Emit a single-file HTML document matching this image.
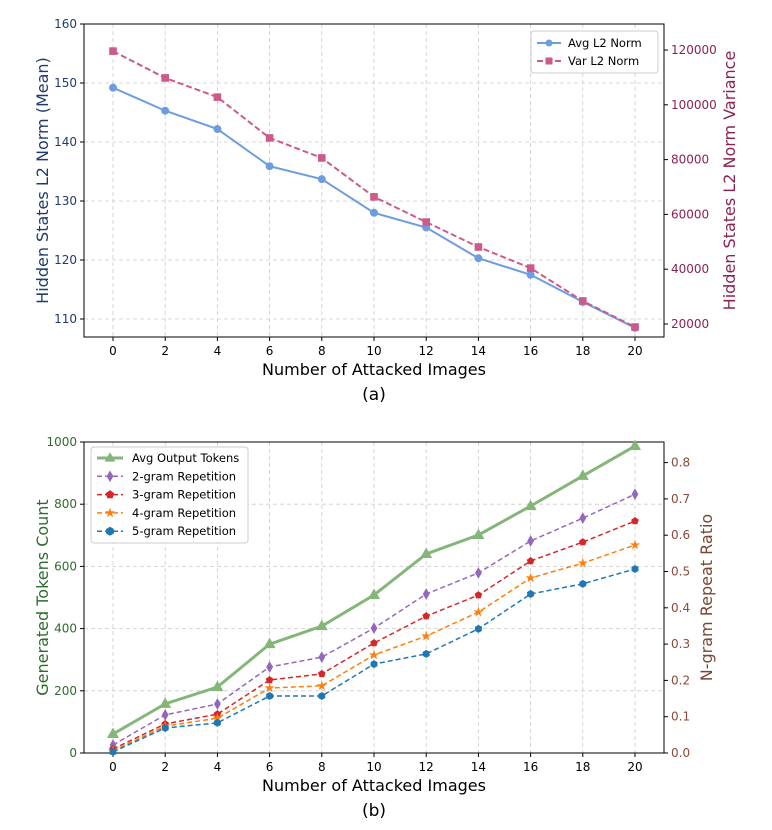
<!DOCTYPE html>
<html><head><meta charset="utf-8"><style>
body{margin:0;background:#fff;font-family:"Liberation Sans","DejaVu Sans",sans-serif}
svg text{font-family:"DejaVu Sans","Liberation Sans",sans-serif}
</style></head><body>
<svg id="c" width="772" height="825" xmlns="http://www.w3.org/2000/svg"></svg>
<script>
const xVals=[0,2,4,6,8,10,12,14,16,18,20];
const avgL2=[149.2,145.3,142.2,135.9,133.7,128.0,125.5,120.3,117.5,112.9,108.5];
const varL2=[119600,109800,102800,87900,80600,66400,57200,48100,40400,28400,18900];
const topLeftTicks=[110,120,130,140,150,160];
const topRightTicks=[20000,40000,60000,80000,100000,120000];
const avgTokens=[61,158,212,350,408,508,640,701,794,891,987];
const gram2=[0.022,0.105,0.135,0.237,0.264,0.344,0.438,0.496,0.584,0.647,0.713];
const gram3=[0.011,0.080,0.107,0.201,0.218,0.303,0.377,0.435,0.529,0.581,0.639];
const gram4=[0.006,0.074,0.096,0.179,0.185,0.270,0.322,0.388,0.482,0.523,0.573];
const gram5=[0.003,0.069,0.083,0.157,0.157,0.245,0.273,0.342,0.438,0.466,0.507];
const botLeftTicks=[0,200,400,600,800,1000];
const botRightTicks=[0,0.1,0.2,0.3,0.4,0.5,0.6,0.7,0.8];

const svg=document.getElementById('c');const NS='http://www.w3.org/2000/svg';
function el(t,a,p){const e=document.createElementNS(NS,t);for(const k in a)e.setAttribute(k,a[k]);(p||svg).appendChild(e);return e;}
function txt(s,a,p){const e=el('text',a,p);e.textContent=s;return e;}
const X0=84,X1=664;
const xs=v=>113+(v/20)*522;

function marker(g,type,x,y,c,s){
  let e;
  if(type==='circle')e=el('circle',{cx:x,cy:y,r:s,fill:c},g);
  else if(type==='square')e=el('rect',{x:x-s,y:y-s,width:2*s,height:2*s,fill:c},g);
  else if(type==='tri')e=el('polygon',{points:`${x},${y-s*1.3} ${x-s*1.2},${y+s*0.8} ${x+s*1.2},${y+s*0.8}`,fill:c},g);
  else if(type==='diamond')e=el('polygon',{points:`${x},${y-s*1.3} ${x-s*0.75},${y} ${x},${y+s*1.3} ${x+s*0.75},${y}`,fill:c},g);
  else if(type==='pent'){let p=[];for(let i=0;i<5;i++){const a=-Math.PI/2+i*2*Math.PI/5;p.push((x+s*Math.cos(a))+','+(y+s*Math.sin(a)));}e=el('polygon',{points:p.join(' '),fill:c},g);}
  else if(type==='hex'){let p=[];for(let i=0;i<6;i++){const a=-Math.PI/2+i*Math.PI/3;p.push((x+s*Math.cos(a))+','+(y+s*Math.sin(a)));}e=el('polygon',{points:p.join(' '),fill:c},g);}
  else if(type==='star'){let p=[];for(let i=0;i<10;i++){const a=-Math.PI/2+i*Math.PI/5,r=i%2?s*0.45:s*1.2;p.push((x+r*Math.cos(a))+','+(y+r*Math.sin(a)));}e=el('polygon',{points:p.join(' '),fill:c},g);}
  
  
}
function series(name,vals,ys,color,dash,mk,ms,w){
  const g=el('g',{});
  
  
  el('polyline',{points:vals.map((v,i)=>xs(xVals[i])+','+ys(v)).join(' '),fill:'none',stroke:color,'stroke-width':w,'stroke-dasharray':dash||'none'},g);
  vals.forEach((v,i)=>marker(g,mk,xs(xVals[i]),ys(v),color,ms));
}
function frame(Y0,Y1,lt,ly,rt,ry,lfmt,rfmt,lcol,rcol,lTitle,rTitle,xTitle,sub,lTitleCol,rTitleCol,rx){
  const g=el('g',{});
  
  
  xVals.forEach(v=>el('line',{x1:xs(v),x2:xs(v),y1:Y0,y2:Y1,stroke:'#ccc','stroke-dasharray':'4,3','stroke-width':0.8},g));
  lt.forEach(v=>el('line',{x1:X0,x2:X1,y1:ly(v),y2:ly(v),stroke:'#ccc','stroke-dasharray':'4,3','stroke-width':0.8},g));
  el('rect',{x:X0,y:Y0,width:X1-X0,height:Y1-Y0,fill:'none',stroke:'#000','stroke-width':1},g);
  xVals.forEach(v=>{el('line',{x1:xs(v),x2:xs(v),y1:Y1,y2:Y1+4,stroke:'#000'},g);txt(v,{x:xs(v),y:Y1+18,'font-size':12,'text-anchor':'middle',fill:'#000'},g);});
  lt.forEach(v=>{el('line',{x1:X0-4,x2:X0,y1:ly(v),y2:ly(v),stroke:'#000'},g);txt(lfmt(v),{x:X0-7,y:ly(v)+4,'font-size':12,'text-anchor':'end',fill:lcol},g);});
  rt.forEach(v=>{el('line',{x1:X1,x2:X1+4,y1:ry(v),y2:ry(v),stroke:'#000'},g);txt(rfmt(v),{x:X1+7,y:ry(v)+4,'font-size':12,fill:rcol},g);});
  const cy=(Y0+Y1)/2;
  txt(lTitle,{x:0,y:0,'font-size':16,'text-anchor':'middle',fill:lTitleCol,transform:`translate(48,${cy}) rotate(-90)`,},g);
  txt(rTitle,{x:0,y:0,'font-size':16,'text-anchor':'middle',fill:rTitleCol,transform:`translate(${rx},${cy}) rotate(-90)`,},g);
  txt(xTitle,{x:374,y:Y1+38,'font-size':16,'text-anchor':'middle',fill:'#000',},g);
  txt(sub,{x:374,y:Y1+63,'font-size':17,'text-anchor':'middle',fill:'#000',},g);
}
// top
const ly1=v=>319-(v-110)*5.9, ry1=v=>324-(v-20000)*274/100000;
frame(24,337,topLeftTicks,ly1,topRightTicks,ry1,v=>v,v=>v,'#1f3a6e','#8b2252','Hidden States L2 Norm (Mean)','Hidden States L2 Norm Variance','Number of Attacked Images','(a)','#1f3a6e','#8b2252',735);
series('avg-l2-norm-line',avgL2,ly1,'#6d9de0',null,'circle',4,2);
series('var-l2-norm-line',varL2,ry1,'#cc5a8a','6,3','square',3.8,2);
let lg=el('g',{});
el('rect',{x:531,y:31,width:127,height:42,rx:3,fill:'#fff',stroke:'#ccc'},lg);
el('line',{x1:537,x2:561,y1:43,y2:43,stroke:'#6d9de0','stroke-width':2},lg);marker(lg,'circle',549,43,'#6d9de0',3.5);
txt('Avg L2 Norm',{x:568,y:47,'font-size':11.5},lg);
el('line',{x1:537,x2:561,y1:61,y2:61,stroke:'#cc5a8a','stroke-width':2,'stroke-dasharray':'6,3'},lg);marker(lg,'square',549,61,'#cc5a8a',3.5);
txt('Var L2 Norm',{x:568,y:65,'font-size':11.5},lg);
// bottom
const ly2=v=>753-v*0.311, ry2=v=>753-v*363;
frame(442,753,botLeftTicks,ly2,botRightTicks,ry2,v=>v,v=>v.toFixed(1),'#2e6b2e','#8b4a3a','Generated Tokens Count','N-gram Repeat Ratio','Number of Attacked Images','(b)','#2e6b2e','#7a4535',712);
series('avg-output-tokens-line',avgTokens,ly2,'#85b679',null,'tri',5,3);
series('2-gram-line',gram2,ry2,'#9467bd','5,3','diamond',4.5,1.5);
series('3-gram-line',gram3,ry2,'#d62728','5,3','pent',4,1.5);
series('4-gram-line',gram4,ry2,'#ff7f0e','5,3','star',4.5,1.5);
series('5-gram-line',gram5,ry2,'#1f77b4','5,3','hex',4,1.5);
lg=el('g',{});
el('rect',{x:91,y:447,width:157,height:96,rx:3,fill:'#fff',stroke:'#ccc'},lg);
const L=[['Avg Output Tokens','#85b679','tri',null,3],['2-gram Repetition','#9467bd','diamond','5,3',1.5],['3-gram Repetition','#d62728','pent','5,3',1.5],['4-gram Repetition','#ff7f0e','star','5,3',1.5],['5-gram Repetition','#1f77b4','hex','5,3',1.5]];
L.forEach((l,i)=>{const y=458+i*18.3;el('line',{x1:97,x2:123,y1:y,y2:y,stroke:l[1],'stroke-width':l[4],'stroke-dasharray':l[3]||'none'},lg);marker(lg,l[2],110,y,l[1],4.5);txt(l[0],{x:132,y:y+4,'font-size':11.5},lg);});
</script>
</body></html>
